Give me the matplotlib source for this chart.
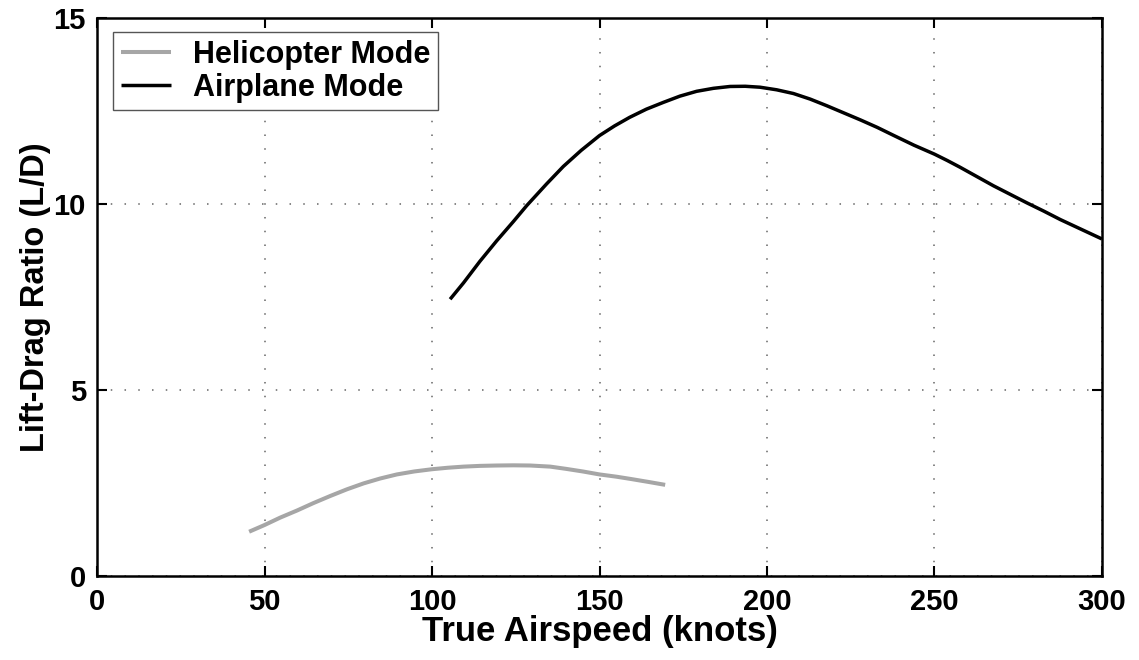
import matplotlib
matplotlib.use("Agg")
import matplotlib.pyplot as plt

plt.rcParams['font.family'] = ['Liberation Sans', 'DejaVu Sans']
plt.rcParams['font.weight'] = 'bold'

# helicopter mode L/D vs airspeed
heli_v = [45.4, 50, 54.7, 59.7, 64.6, 69.6, 74.6, 79.6, 84.5, 89.5, 94.7, 100,
          104.7, 109.4, 114.3, 119.3, 124.3, 129.3, 135.3, 140, 145, 150, 155,
          159.2, 164.5, 169.6]
heli_ld = [1.19, 1.37, 1.57, 1.76, 1.96, 2.15, 2.33, 2.49, 2.62, 2.73, 2.81, 2.87,
           2.91, 2.94, 2.96, 2.97, 2.975, 2.97, 2.94, 2.88, 2.81, 2.73, 2.67,
           2.61, 2.53, 2.45]

# airplane mode L/D vs airspeed
plane_v = [105.4, 109.4, 114.3, 119.3, 124.3, 128.3, 134.2, 139.2, 144.5, 150, 154.5,
           159, 164, 169, 174, 179, 184, 189, 193.5, 197.9, 202.9, 207.9, 212.9, 217.9,
           222.9, 227.9, 232.9, 237.9, 243.9, 250, 253.8, 257.6, 262.6, 267.6, 272.6,
           277.6, 282.6, 287.6, 293.8, 300]
plane_ld = [7.44, 7.88, 8.46, 9.01, 9.53, 9.96, 10.54, 11.01, 11.44, 11.84, 12.10,
            12.33, 12.55, 12.73, 12.90, 13.03, 13.11, 13.16, 13.165, 13.14, 13.07, 12.97,
            12.82, 12.64, 12.45, 12.26, 12.06, 11.84, 11.58, 11.34, 11.17, 10.99, 10.74,
            10.49, 10.26, 10.03, 9.81, 9.58, 9.32, 9.06]

xticks = [0, 50, 100, 150, 200, 250, 300]
yticks = [0, 5, 10, 15]

fig = plt.figure(figsize=(11.39, 6.6), dpi=100)
ax = fig.add_axes([0.0852, 0.1273, 0.8823, 0.8454])

ax.plot(heli_v, heli_ld, color='#a6a6a6', lw=2.9, label='Helicopter Mode',
        solid_capstyle='butt', solid_joinstyle='round')
ax.plot(plane_v, plane_ld, color='black', lw=2.5, label='Airplane Mode',
        solid_capstyle='butt', solid_joinstyle='round')

ax.set_xlim(0, 300)
ax.set_ylim(0, 15)
ax.set_xticks(xticks)
ax.set_yticks(yticks)
ax.tick_params(direction='in', length=7, width=1.5, labelsize=21, pad=9,
               top=True, right=True)
ax.tick_params(axis='y', pad=8)
for lab in ax.get_xticklabels() + ax.get_yticklabels():
    lab.set_fontweight('bold')
ax.grid(True, linestyle=(0, (1, 8)), color='#666666', lw=1.1)
for s in ax.spines.values():
    s.set_linewidth(1.8)

ax.set_xlabel('True Airspeed (knots)', fontsize=25, fontweight='bold', labelpad=-1)
ax.set_ylabel('Lift-Drag Ratio (L/D)', fontsize=23.5, fontweight='bold', labelpad=2)

leg = ax.legend(loc='upper left', bbox_to_anchor=(0.016, 0.975), borderaxespad=0,
                prop={'weight': 'bold', 'size': 22}, fancybox=False,
                handlelength=1.65, handletextpad=0.7, borderpad=0.25, labelspacing=0.1,
                framealpha=1)
leg.get_frame().set_edgecolor('#555555')
leg.get_frame().set_linewidth(1.0)

fig.savefig('out.png', dpi=100)
